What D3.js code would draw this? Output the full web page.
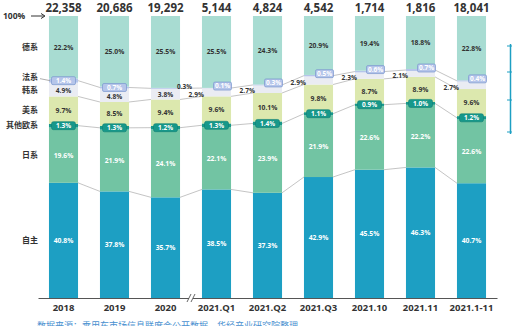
<!DOCTYPE html>
<html>
<head>
<meta charset="utf-8">
<script src="https://cdn.jsdelivr.net/npm/d3@7"></script>
<style>
  body { margin: 0; background: #fff; }
  svg { display: block; font-family: "Open Sans", "Noto Sans CJK SC", sans-serif; }
</style>
</head>
<body>
<div class="chartHolder"></div>
<script>
var width = 512;
var height = 326;

// categories and totals (sales, thousand units)
var categories = ["2018", "2019", "2020", "2021.Q1", "2021.Q2", "2021.Q3", "2021.10", "2021.11", "2021.1-11"];
var totals = [22358, 20686, 19292, 5144, 4824, 4542, 1714, 1816, 18041];

// shares in %, bottom to top
var seriesNames = ["自主", "日系", "其他欧系", "美系", "韩系", "法系", "德系"];
var zizhu = [40.8, 37.8, 35.7, 38.5, 37.3, 42.9, 45.5, 46.3, 40.7];
var rixi = [19.6, 21.9, 24.1, 22.1, 23.9, 21.9, 22.6, 22.2, 22.6];
var qitaOuxi = [1.3, 1.3, 1.2, 1.3, 1.4, 1.1, 0.9, 1.0, 1.2];
var meixi = [9.7, 8.5, 9.4, 9.6, 10.1, 9.8, 8.7, 8.9, 9.6];
var hanxi = [4.9, 4.8, 3.8, 2.9, 2.7, 2.9, 2.3, 2.1, 2.7];
var faxi = [1.4, 0.7, 0.3, 0.1, 0.3, 0.5, 0.6, 0.7, 0.4];
var dexi = [22.2, 25.0, 25.5, 25.5, 24.3, 20.9, 19.4, 18.8, 22.8];

var colors = {
  "自主": "#1d9fc3",
  "日系": "#72c4a3",
  "其他欧系": "#17988a",
  "美系": "#dce8ae",
  "韩系": "#eaecf3",
  "法系": "#b5c5ea",
  "德系": "#a8dcd2"
};

var seriesValues = [zizhu, rixi, qitaOuxi, meixi, hanxi, faxi, dexi];
var rows = categories.map(function (c, i) {
  var r = { cat: c };
  seriesNames.forEach(function (s, j) { r[s] = seriesValues[j][i]; });
  return r;
});

var svg = d3.select(".chartHolder").append("svg")
  .attr("width", width)
  .attr("height", height);

var x = d3.scaleBand()
  .domain(categories)
  .range([38, 497])
  .paddingInner(0.43)
  .paddingOuter(0.215);

var y = d3.scaleLinear().domain([0, 1]).range([298, 16]);

var stacked = d3.stack().keys(seriesNames).offset(d3.stackOffsetExpand)(rows);
var bw = x.bandwidth();

// connecting lines between bars
function connector(layerIdx, mode) {
  var layer = stacked[layerIdx];
  var pts = [];
  layer.forEach(function (d, i) {
    var v = mode === "top" ? d[1] : mode === "bottom" ? d[0] : (d[0] + d[1]) / 2;
    pts.push([x(categories[i]), y(v), x(categories[i]) + bw]);
  });
  for (var i = 0; i < pts.length - 1; i++) {
    svg.append("line")
      .attr("x1", pts[i][2]).attr("y1", pts[i][1])
      .attr("x2", pts[i + 1][0]).attr("y2", pts[i + 1][1])
      .attr("stroke", "#b5b5b5").attr("stroke-width", 0.8);
  }
}
connector(0, "top");
connector(2, "mid");
connector(4, "bottom");
connector(5, "mid");

// bars
svg.selectAll("g.layer")
  .data(stacked)
  .enter().append("g")
  .attr("class", "layer")
  .attr("fill", function (d) { return colors[d.key]; })
  .selectAll("rect")
  .data(function (d) { return d; })
  .enter().append("rect")
  .attr("x", function (d) { return x(d.data.cat); })
  .attr("y", function (d) { return y(d[1]); })
  .attr("width", bw)
  .attr("height", function (d) { return y(d[0]) - y(d[1]); });

// plain labels inside the bigger segments
var plain = [
  { idx: 0, fill: "#fff" },
  { idx: 1, fill: "#fff" },
  { idx: 3, fill: "#333" },
  { idx: 6, fill: "#333" }
];
plain.forEach(function (p) {
  svg.append("g").selectAll("text")
    .data(stacked[p.idx])
    .enter().append("text")
    .attr("x", function (d) { return x(d.data.cat) + bw / 2; })
    .attr("y", function (d) { return (y(d[0]) + y(d[1])) / 2; })
    .attr("dy", "0.35em")
    .attr("text-anchor", "middle")
    .attr("font-size", 6.8)
    .attr("font-weight", "bold")
    .attr("fill", p.fill)
    .text(function (d) { return d.data[seriesNames[p.idx]].toFixed(1) + "%"; });
});

// 韩系 labels: centred for the yearly bars, left of the bar afterwards
svg.append("g").selectAll("text")
  .data(stacked[4])
  .enter().append("text")
  .attr("x", function (d, i) { return i < 3 ? x(d.data.cat) + bw / 2 : x(d.data.cat) + 2; })
  .attr("y", function (d, i) { return (y(d[0]) + y(d[1])) / 2 + (i < 3 ? 1 : 2); })
  .attr("dy", "0.35em")
  .attr("text-anchor", function (d, i) { return i < 3 ? "middle" : "end"; })
  .attr("font-size", 6.6)
  .attr("font-weight", "bold")
  .attr("fill", "#333")
  .text(function (d) { return d.data["韩系"].toFixed(1) + "%"; });

// 其他欧系 boxed labels
var euBox = svg.append("g").selectAll("g")
  .data(stacked[2])
  .enter().append("g")
  .attr("transform", function (d) {
    return "translate(" + (x(d.data.cat) + bw / 2) + "," + ((y(d[0]) + y(d[1])) / 2) + ")";
  });
euBox.append("rect")
  .attr("x", -12).attr("y", -4).attr("width", 24).attr("height", 8)
  .attr("rx", 2).attr("fill", "#17988a").attr("stroke", "#0f7f73").attr("stroke-width", 0.6);
euBox.append("text")
  .attr("text-anchor", "middle").attr("dy", "0.35em")
  .attr("font-size", 6.5).attr("font-weight", "bold").attr("fill", "#fff")
  .text(function (d) { return d.data["其他欧系"].toFixed(1) + "%"; });

// 法系 labels
stacked[5].forEach(function (d, i) {
  var cy = (y(d[0]) + y(d[1])) / 2;
  var txt = d.data["法系"].toFixed(1) + "%";
  if (i === 2) {
    svg.append("text")
      .attr("x", x(d.data.cat) + bw - 3).attr("y", cy - 2).attr("dy", "0.35em")
      .attr("font-size", 6.4).attr("font-weight", "bold").attr("fill", "#333")
      .text(txt);
    return;
  }
  var cx = i < 2 ? x(d.data.cat) + bw / 2 : x(d.data.cat) + bw / 2 + 6;
  var w = i < 2 ? 24 : 18;
  var cyy = i < 2 ? cy : cy - 2;
  var g = svg.append("g").attr("transform", "translate(" + cx + "," + cyy + ")");
  g.append("rect")
    .attr("x", -w / 2).attr("y", -4).attr("width", w).attr("height", 8)
    .attr("rx", 1.5).attr("fill", "#b5c5ea").attr("stroke", "#7a96cf").attr("stroke-width", 0.7);
  g.append("text")
    .attr("text-anchor", "middle").attr("dy", "0.35em")
    .attr("font-size", 6.5).attr("font-weight", "bold").attr("fill", "#fff")
    .text(txt);
});

// totals on top
svg.append("g").selectAll("text")
  .data(totals)
  .enter().append("text")
  .attr("x", function (d, i) { return x(categories[i]) + bw / 2; })
  .attr("y", 12)
  .attr("text-anchor", "middle")
  .attr("font-size", 11.5)
  .attr("font-weight", "bold")
  .attr("fill", "#333")
  .text(function (d) { return d3.format(",")(d); });

// x axis
var xAxis = d3.axisBottom(x).tickSize(0).tickSizeOuter(0).tickPadding(6);
var xg = svg.append("g")
  .attr("transform", "translate(0,298)")
  .call(xAxis);
xg.select(".domain").attr("stroke", "#555").attr("stroke-width", 1);
xg.selectAll("text")
  .attr("font-size", 9.5)
  .attr("font-weight", "bold")
  .attr("fill", "#333")
  .attr("font-family", "'Open Sans', sans-serif");

// axis break between 2020 and 2021.Q1
var bx = (x("2020") + bw + x("2021.Q1")) / 2;
svg.append("rect").attr("x", bx - 2).attr("y", 295).attr("width", 4).attr("height", 6).attr("fill", "#fff");
[-2, 2].forEach(function (o) {
  svg.append("line")
    .attr("x1", bx + o - 2).attr("y1", 302)
    .attr("x2", bx + o + 2).attr("y2", 294)
    .attr("stroke", "#555").attr("stroke-width", 0.9);
});

// left series labels, aligned on the first bar
var first = stacked.map(function (l) { return (y(l[0][0]) + y(l[0][1])) / 2; });
var nudge = { "法系": -3, "韩系": 1 };
seriesNames.forEach(function (s, j) {
  svg.append("text")
    .attr("x", 38).attr("y", first[j] + (nudge[s] || 0)).attr("dy", "0.35em")
    .attr("text-anchor", "end")
    .attr("font-size", 8)
    .attr("font-weight", "bold")
    .attr("font-family", "'Noto Sans CJK SC', sans-serif")
    .attr("fill", "#333")
    .text(s);
});
svg.append("line")
  .attr("x1", 40).attr("y1", first[5] - 2).attr("x2", 50).attr("y2", first[5])
  .attr("stroke", "#999").attr("stroke-width", 0.8);

// 100% marker
svg.append("text")
  .attr("x", 3).attr("y", 16).attr("dy", "0.35em")
  .attr("font-size", 8.5).attr("font-weight", "bold").attr("fill", "#333")
  .text("100%");
svg.append("line")
  .attr("x1", 31).attr("y1", 16).attr("x2", 44).attr("y2", 16)
  .attr("stroke", "#333").attr("stroke-width", 1);
svg.append("path")
  .attr("d", "M41,13.5L45,16L41,18.5")
  .attr("fill", "none").attr("stroke", "#333").attr("stroke-width", 1);

// cropped legend frame at right edge
svg.append("line")
  .attr("x1", 510.5).attr("y1", 44).attr("x2", 510.5).attr("y2", 134)
  .attr("stroke", "#1d9fc3").attr("stroke-width", 1.5);
[46, 72, 100, 132].forEach(function (yy) {
  svg.append("line")
    .attr("x1", 507).attr("y1", yy).attr("x2", 512).attr("y2", yy)
    .attr("stroke", "#1d9fc3").attr("stroke-width", 1);
});

// source line, cut at the bottom as in the original
svg.append("text")
  .attr("x", 37).attr("y", 329)
  .attr("font-size", 9)
  .attr("font-family", "'Noto Sans CJK SC', sans-serif")
  .attr("fill", "#4a90d0")
  .text("数据来源：乘用车市场信息联席会公开数据，华经产业研究院整理");
</script>
</body>
</html>
